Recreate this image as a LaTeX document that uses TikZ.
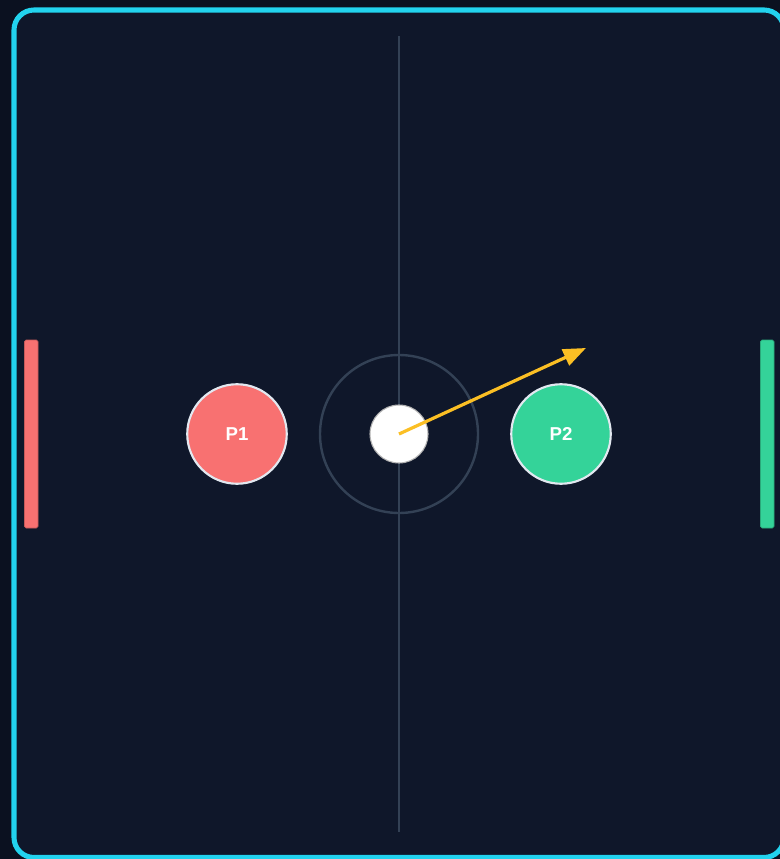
\documentclass[tikz,border=0pt]{standalone}
\usepackage{fontspec}
\setmainfont{Liberation Sans}
\usetikzlibrary{arrows.meta}

\definecolor{rinkbg}{HTML}{0F172A}
\definecolor{pagebg}{HTML}{0B1120}
\definecolor{rimcyan}{HTML}{22D3EE}
\definecolor{lineslate}{HTML}{334155}
\definecolor{redp}{HTML}{F87171}
\definecolor{greenp}{HTML}{34D399}
\definecolor{aimyellow}{HTML}{FBBF24}
\definecolor{rimwhite}{HTML}{E2E8F0}

\begin{document}
\begin{tikzpicture}[x=.75pt,y=-.75pt,
    paddle/.style={draw=#1!80!black,fill=#1,line width=.6pt,rounded corners=1.2pt},
    mallet/.style={circle,draw=rimwhite,line width=1.6pt,fill=#1,minimum size=99.5*.75pt,inner sep=0pt,
      text=white,font=\fontsize{14}{16}\selectfont\bfseries},
    puckstyle/.style={circle,draw=gray!60,line width=.8pt,fill=white,minimum size=58*.75pt,inner sep=0pt}]
  % page and rink
  \useasboundingbox[fill=pagebg] (0,0) rectangle (780,859);
  \begin{scope}
    \clip (0,0) rectangle (780,859);
    \draw[rimcyan,fill=rinkbg,line width=3.8pt,rounded corners=15pt] (14,10) rectangle (784,857.5);
  \end{scope}
  % markings
  \draw[lineslate,line width=1.8pt] (399,36) -- (399,832);
  \draw[lineslate,line width=1.8pt] (399,434) circle (79);
  % paddles
  \draw[paddle=redp] (24.5,340) rectangle (38,528);
  \draw[paddle=greenp] (760.5,340) rectangle (774,528);
  % mallets and puck
  \node[mallet=redp] (p1) at (237,434) {P1};
  \node[mallet=greenp] (p2) at (561,434) {P2};
  \node[puckstyle] (puck) at (399,434) {};
  \coordinate (aim) at (586,348);
  \draw[aimyellow,line width=2.4pt,-{Triangle[length=17pt,width=13pt]}] (puck.center) -- (aim);
\end{tikzpicture}
\end{document}
